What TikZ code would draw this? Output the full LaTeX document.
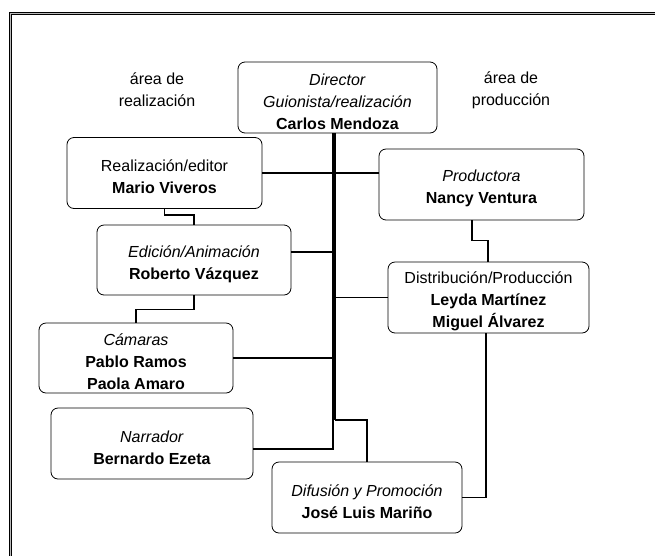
\documentclass[tikz,border=0pt]{standalone}
\usepackage{fontspec}
\setmainfont{Liberation Sans}
\usetikzlibrary{calc}
\newcommand{\lift}{\rule{0pt}{19.5pt}}

\tikzset{
  box/.style={draw,rounded corners=7pt,line width=0.8pt,align=center,inner sep=0pt,minimum height=71pt},
  link/.style={line width=1.8pt},
  trunk/.style={line width=3.8pt},
}

\begin{document}
\begin{tikzpicture}[x=1pt,y=-1pt,font=\fontsize{16}{22}\selectfont]
  \useasboundingbox (0,0) rectangle (655,555);
  % page frame, cut by the picture's edge
  \begin{scope}
    \clip (0,0) rectangle (655,555);
    \draw[line width=1pt,double=gray!55,double distance=1.6pt] (10.5,13.5) rectangle (700,600);
  \end{scope}
  % side headings
  \node[align=center] (La) at (157,90) {área de\\realización};
  \node[align=center] (Lp) at (511,90) {área de\\producción};
  % boxes
  \node[box,minimum width=199pt] (Dir) at (337.5,97.5)
       {\lift\textit{Director}\\\textit{Guionista/realización}\\\textbf{Carlos Mendoza}};
  \node[box,minimum width=195pt] (Rea) at (164.5,173)
       {\lift Realización/editor\\\textbf{Mario Viveros}};
  \node[box,minimum width=205pt] (Pro) at (481.5,184.5)
       {\lift\textit{Productora}\\\textbf{Nancy Ventura}};
  \node[box,minimum width=194pt,minimum height=70pt] (Edi) at (194,260)
       {\lift\textit{Edición/Animación}\\\textbf{Roberto Vázquez}};
  \node[box,minimum width=201pt] (Dis) at (488.5,297.5)
       {\lift Distribución/Producción\\\textbf{Leyda Martínez}\\\textbf{Miguel Álvarez}};
  \node[box,minimum width=194pt,minimum height=70pt] (Cam) at (136,358)
       {\lift\textit{Cámaras}\\\textbf{Pablo Ramos}\\\textbf{Paola Amaro}};
  \node[box,minimum width=202pt] (Nar) at (152,443.5)
       {\lift\textit{Narrador}\\\textbf{Bernardo Ezeta}};
  \node[box,minimum width=190pt] (Dif) at (367,497.5)
       {\lift\textit{Difusión y Promoción}\\\textbf{José Luis Mariño}};
  % main line from the director
  \coordinate (Tb) at (334,420);
  \draw[trunk] (Dir.south -| Tb) -- (Tb);
  \draw[link] (Rea.east) -- (Rea.east -| Pro.west);
  \draw[line width=2.8pt] (Edi.east |- 0,252) -- (Tb |- 0,252);
  \draw[link] (Dis.west) -- (Dis.west -| Tb);
  \draw[link] (Cam.east) -- (Cam.east -| Tb);
  \draw[link] (Nar.east |- 0,449) -| ($(Tb)+(-1,0)$);
  \draw[link] ($(Tb)+(1,0)$) -| (Dif.north);
  % side links
  \draw[link] (Rea.south) -- ++(0,6) -| (Edi.north);
  \draw[link] (Edi.south) -- ++(0,14) -| (Cam.north);
  \draw[link] ($(Pro.south)+(-9.5,0)$) -- ++(0,20) -| ($(Dis.north)+(-0.5,0)$);
  \draw[link] ($(Dis.south)+(-2.5,0)$) |- (Dif.east);
\end{tikzpicture}
\end{document}
